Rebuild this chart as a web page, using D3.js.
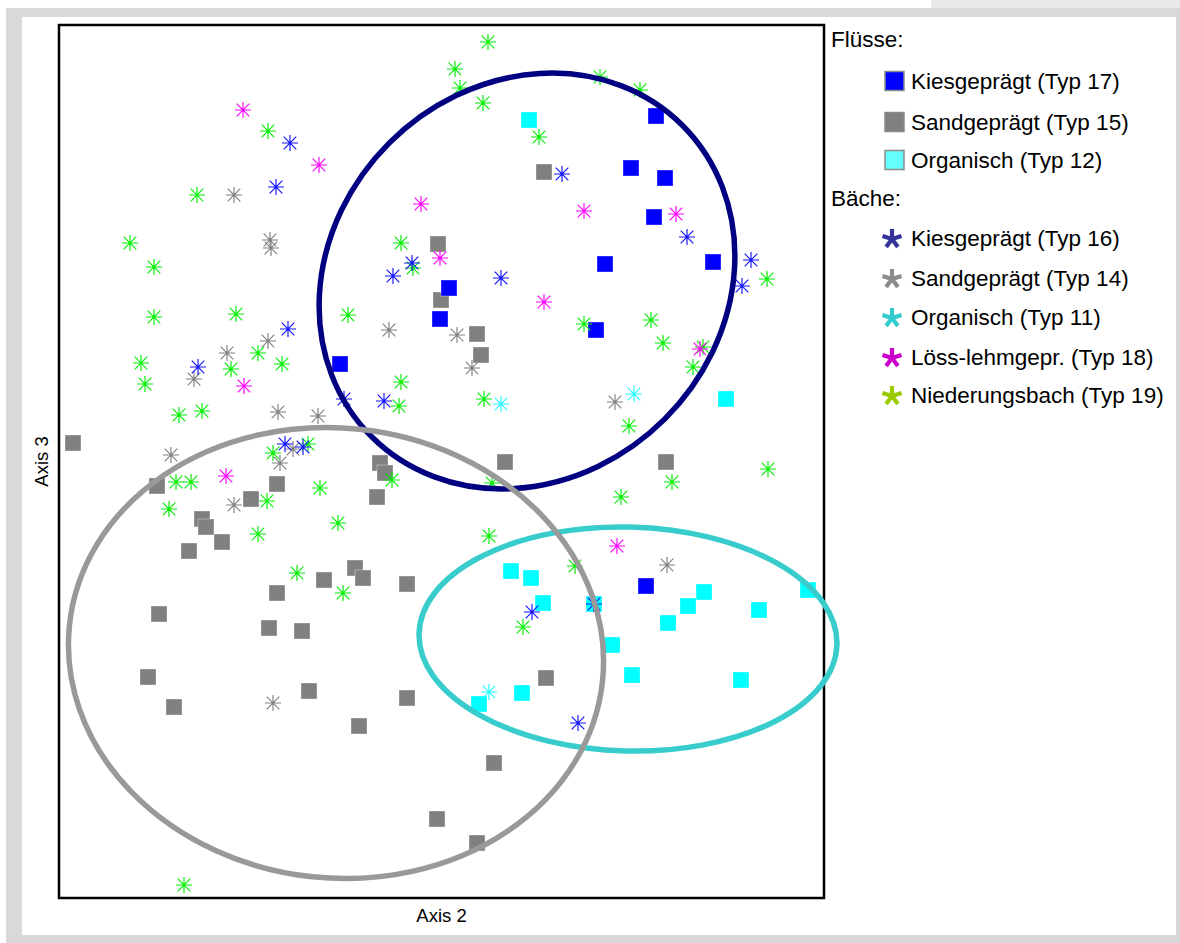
<!DOCTYPE html>
<html>
<head>
<meta charset="utf-8">
<script src="https://cdn.jsdelivr.net/npm/d3@7"></script>
<style>
  body { margin: 0; background: #fff; }
  svg { display: block; font-family: "Liberation Sans", Arial, sans-serif; }
</style>
</head>
<body>
<svg id="chart" width="1180" height="943"></svg>
<script>
// ---- data (ordination scores, Axis 2 / Axis 3) ----
// Flüsse (squares)
const kies17 = [[5.97,7.82],[5.72,7.30],[6.06,7.20],[5.95,6.81],[5.46,6.34],[6.54,6.36],
  [3.90,6.10],[3.81,5.79],[5.37,5.68],[2.81,5.34],[5.87,3.12]];
const sand15 = [[4.85,7.26],[3.79,6.54],[3.82,5.98],[4.18,5.64],[4.22,5.43],[0.14,4.55],
  [4.46,4.36],[6.07,4.36],[3.21,4.35],[3.26,4.25],[0.98,4.12],[2.18,4.14],[1.92,3.99],
  [3.18,4.01],[1.43,3.79],[1.47,3.71],[1.63,3.56],[1.30,3.47],[2.96,3.30],[3.04,3.20],
  [2.65,3.18],[3.48,3.14],[2.18,3.05],[1.00,2.84],[2.10,2.70],[2.43,2.67],[0.89,2.21],
  [1.15,1.91],[2.50,2.07],[3.48,2.00],[3.00,1.72],[4.87,2.20],[4.35,1.35],[3.78,0.79],
  [4.18,0.55]];
const org12 = [[4.70,7.78],[6.67,4.99],[4.52,3.27],[4.72,3.20],[4.84,2.95],[5.35,2.94],
  [6.45,3.06],[6.29,2.92],[7.49,3.08],[7.00,2.88],[6.09,2.75],[5.53,2.53],[5.73,2.23],
  [6.82,2.18],[4.63,2.05],[4.20,1.94]];
// Bäche (asterisks)
const kies16 = [[2.31,7.55],[2.17,7.11],[5.03,7.24],[6.28,6.61],[3.53,6.35],[3.34,6.22],
  [4.42,6.20],[6.92,6.38],[6.83,6.12],[2.29,5.69],[1.39,5.31],[2.85,4.99],[3.25,4.97],
  [2.26,4.54],[2.44,4.51],[4.73,2.86],[5.35,2.94],[5.19,1.75]];
const sand14 = [[1.75,7.03],[2.11,6.58],[2.12,6.50],[2.09,5.57],[3.30,5.68],[3.98,5.63],
  [4.13,5.30],[1.68,5.45],[1.35,5.19],[2.19,4.86],[2.59,4.82],[1.12,4.43],[2.34,4.49],
  [2.21,4.35],[1.75,3.93],[5.56,4.96],[6.08,3.33],[2.14,1.95]];
const org11 = [[4.42,4.94],[5.75,5.04],[4.30,2.06]];
const loess18 = [[1.84,7.88],[2.60,7.33],[3.62,6.94],[3.81,6.40],[5.25,6.87],[6.17,6.84],
  [4.85,5.96],[6.41,5.49],[1.85,5.12],[1.67,4.22],[5.58,3.52]];
const nied19 = [[4.29,8.56],[3.96,8.29],[4.01,8.10],[4.24,7.95],[5.41,8.21],[5.81,8.08],
  [4.80,7.61],[2.09,7.67],[1.38,7.03],[0.71,6.55],[0.95,6.31],[3.42,6.55],[3.54,6.30],
  [7.08,6.19],[0.95,5.81],[1.77,5.84],[2.89,5.83],[5.25,5.74],[5.92,5.78],[6.04,5.55],
  [6.44,5.51],[6.34,5.31],[0.82,5.35],[0.86,5.14],[1.72,5.29],[1.99,5.45],[2.23,5.34],
  [3.42,5.16],[3.40,4.92],[1.20,4.83],[1.43,4.87],[4.25,4.99],[5.70,4.72],[2.14,4.45],
  [2.49,4.54],[3.33,4.18],[1.17,4.16],[1.32,4.16],[2.61,4.10],[2.08,3.97],[1.10,3.89],
  [1.99,3.64],[2.79,3.75],[4.33,4.15],[6.13,4.16],[7.09,4.29],[5.62,4.01],[4.30,3.62],
  [5.16,3.32],[2.38,3.25],[2.84,3.05],[4.64,2.71],[1.25,0.13]];

// group ellipses: [cx, cy, semi-major, semi-minor, angle deg]
const ellKies = [4.68, 6.17, 2.20, 1.95, 45];
const ellSand = [2.77, 2.45, 2.68, 2.25, -6];
const ellOrg  = [5.69, 2.59, 2.09, 1.12, -1.5];

const xDomain = [0, 7.65];
const yDomain = [0, 8.73];
const axisLabels = ['Axis 2', 'Axis 3'];

const legendFluesse = ['Kiesgeprägt (Typ 17)', 'Sandgeprägt (Typ 15)', 'Organisch (Typ 12)'];
const legendBaeche  = ['Kiesgeprägt (Typ 16)', 'Sandgeprägt (Typ 14)', 'Organisch (Typ 11)',
  'Löss-lehmgepr. (Typ 18)', 'Niederungsbach (Typ 19)'];

// ---- layout ----
const svg = d3.select('#chart');
const plot = { left: 59, top: 25, right: 824, bottom: 898 };

const x = d3.scaleLinear().domain(xDomain).range([plot.left, plot.right]);
const y = d3.scaleLinear().domain(yDomain).range([plot.bottom, plot.top]);

// page frame
svg.append('rect').attr('x', 931).attr('y', 0).attr('width', 249).attr('height', 8).attr('fill', '#e9e9e9');
svg.append('rect').attr('x', 6).attr('y', 8).attr('width', 1174).attr('height', 935).attr('fill', '#d9d9d9');
svg.append('rect').attr('x', 22).attr('y', 17).attr('width', 1154).attr('height', 918).attr('fill', '#fff');

svg.append('rect')
  .attr('x', plot.left).attr('y', plot.top)
  .attr('width', plot.right - plot.left).attr('height', plot.bottom - plot.top)
  .attr('fill', '#fff').attr('stroke', '#000').attr('stroke-width', 2.5);

const g = svg.append('g');

// squares (Flüsse)
function squares(data, color) {
  g.selectAll(null).data(data).enter().append('rect')
    .attr('x', d => x(d[0]) - 8).attr('y', d => y(d[1]) - 8)
    .attr('width', 16).attr('height', 16)
    .attr('fill', color)
    .attr('stroke', '#fff').attr('stroke-opacity', 0.35).attr('stroke-width', 1);
}
squares(sand15, '#808080');
squares(kies17, '#0000ff');
squares(org12, '#00ffff');

// asterisks (Bäche)
const starPath = 'M-8,0H8M0,-8V8M-6.3,-6.3L6.3,6.3M-6.3,6.3L6.3,-6.3';
function stars(data, color) {
  g.selectAll(null).data(data).enter().append('path')
    .attr('transform', d => `translate(${x(d[0])},${y(d[1])})`)
    .attr('d', starPath)
    .attr('fill', 'none')
    .attr('stroke', color).attr('stroke-width', 1.15);
}
stars(sand14, '#808080');
stars(nied19, '#00ee00');
stars(org11, '#22ffff');
stars(loess18, '#ff00ff');
stars(kies16, '#1010ff');

// ellipses
function ellipse(e, color) {
  const [cx, cy, a, b, ang] = e;
  g.append('ellipse')
    .attr('transform', `translate(${x(cx)},${y(cy)}) rotate(${-ang})`)
    .attr('rx', x(a) - x(0)).attr('ry', y(0) - y(b))
    .attr('fill', 'none').attr('stroke', color).attr('stroke-width', 5.5);
}
ellipse(ellOrg, '#38cccc');
ellipse(ellKies, '#000080');
ellipse(ellSand, '#999999');

// axis titles
svg.append('text')
  .attr('x', (plot.left + plot.right) / 2).attr('y', 922)
  .attr('text-anchor', 'middle').attr('font-size', 18.5).attr('fill', '#000')
  .text(axisLabels[0]);
svg.append('text')
  .attr('transform', `translate(48,${(plot.top + plot.bottom) / 2}) rotate(-90)`)
  .attr('text-anchor', 'middle').attr('font-size', 18.5).attr('fill', '#000')
  .text(axisLabels[1]);

// ---- legend ----
const lg = svg.append('g');
const fs = 22.5;
lg.append('text').attr('x', 831).attr('y', 47).attr('font-size', fs).text('Flüsse:');
lg.append('text').attr('x', 831).attr('y', 206).attr('font-size', fs).text('Bäche:');

const sqColors = ['#0000ff', '#808080', '#66ffff'];
const sqRows = [81, 122, 160];
legendFluesse.forEach((t, i) => {
  lg.append('rect').attr('x', 885).attr('y', sqRows[i] - 9.5).attr('width', 19).attr('height', 19)
    .attr('fill', sqColors[i]).attr('stroke', '#8a8a8a').attr('stroke-width', 1.5);
  lg.append('text').attr('x', 911).attr('y', sqRows[i] + 8).attr('font-size', fs).text(t);
});

const starColors = ['#333399', '#8c8c8c', '#33cccc', '#cc00cc', '#99cc00'];
const starRows = [238, 278, 317, 357, 395];
const legendStar = d3.range(5).map(k => {
  const a = (-90 + k * 72) * Math.PI / 180;
  return `M0,0L${(10 * Math.cos(a)).toFixed(2)},${(10 * Math.sin(a)).toFixed(2)}`;
}).join('');
legendBaeche.forEach((t, i) => {
  lg.append('path').attr('transform', `translate(892,${starRows[i] + 1})`)
    .attr('d', legendStar).attr('fill', 'none')
    .attr('stroke', starColors[i]).attr('stroke-width', 4.2);
  lg.append('text').attr('x', 911).attr('y', starRows[i] + 8).attr('font-size', fs).text(t);
});
</script>
</body>
</html>
